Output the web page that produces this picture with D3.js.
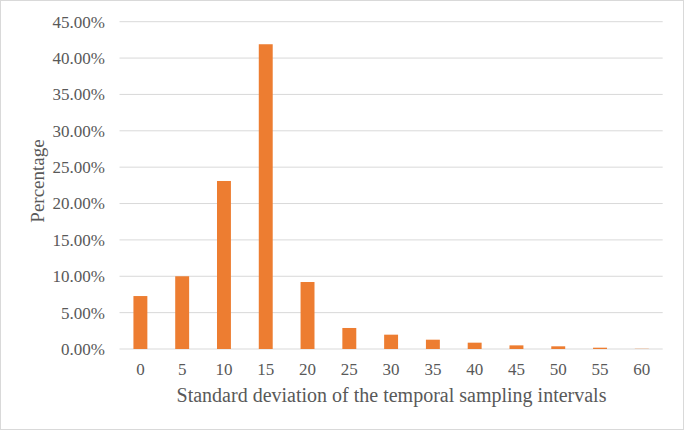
<!DOCTYPE html>
<html><head><meta charset="utf-8">
<script src="https://cdn.jsdelivr.net/npm/d3@7"></script>
<style>body{margin:0;background:#fff}svg{display:block}</style>
</head><body>
<script>
const categories = ["0","5","10","15","20","25","30","35","40","45","50","55","60"];
const values = [0.0728,0.1000,0.2310,0.4190,0.0921,0.0289,0.0197,0.0128,0.0087,0.0050,0.0037,0.0018,0.0003];
const yTicks = [0,0.05,0.10,0.15,0.20,0.25,0.30,0.35,0.40,0.45];
const xTitle = "Standard deviation of the temporal sampling intervals";
const yTitle = "Percentage";

const W=685,H=431;
const svg=d3.select("body").append("svg").attr("width",W).attr("height",H);
svg.append("rect").attr("x",0.5).attr("y",0.5).attr("width",W-2).attr("height",H-2)
  .attr("fill","#fff").attr("stroke","#d9d9d9");
const L=119.5,R=662.7,T=21.7,B=349;
const x=d3.scaleBand().domain(categories).range([L,R]).paddingInner(2/3).paddingOuter(1/3);
const y=d3.scaleLinear().domain([0,0.45]).range([B,T]);
const font="'Liberation Serif','Times New Roman',serif";
const g=svg.append("g");
g.selectAll("line.grid").data(yTicks).join("line").attr("class","grid")
  .attr("x1",L).attr("x2",R).attr("y1",d=>y(d)).attr("y2",d=>y(d))
  .attr("stroke","#d9d9d9").attr("stroke-width",1);
g.selectAll("rect.bar").data(values).join("rect").attr("class","bar")
  .attr("x",(d,i)=>x(categories[i])).attr("width",x.bandwidth())
  .attr("y",d=>y(d)).attr("height",d=>B-y(d)).attr("fill","#ED7D31");
g.selectAll("text.yt").data(yTicks).join("text").attr("class","yt")
  .attr("x",105).attr("y",d=>y(d)).attr("dy","0.35em").attr("text-anchor","end")
  .attr("font-family",font).attr("font-size",17).attr("fill","#595959")
  .text(d=>d3.format(".2%")(d));
g.selectAll("text.xt").data(categories).join("text").attr("class","xt")
  .attr("x",d=>x(d)+x.bandwidth()/2).attr("y",375).attr("text-anchor","middle")
  .attr("font-family",font).attr("font-size",17).attr("fill","#595959").text(d=>d);
svg.append("text").attr("x",391.5).attr("y",402).attr("text-anchor","middle")
  .attr("font-family",font).attr("font-size",20).attr("fill","#595959").text(xTitle);
svg.append("text").attr("transform","translate(44,181) rotate(-90)").attr("text-anchor","middle")
  .attr("font-family",font).attr("font-size",19).attr("fill","#595959").text(yTitle);
</script>
</body></html>
